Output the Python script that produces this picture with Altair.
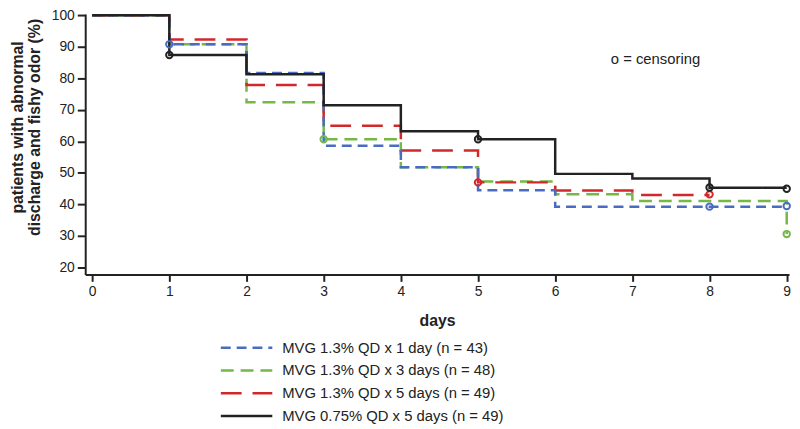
import altair as alt
import pandas as pd

# ---- data ----
series_names = [
    "MVG 1.3% QD x 1 day (n = 43)",
    "MVG 1.3% QD x 3 days (n = 48)",
    "MVG 1.3% QD x 5 days (n = 49)",
    "MVG 0.75% QD x 5 days (n = 49)",
]
series_colors = ["#4a6cc0", "#74b846", "#d2282c", "#222222"]
series_dashes = [[10, 6], [13, 7], [21, 11], [1, 0]]

blue_days = [0, 1, 2, 3, 4, 5, 6, 9]
blue_vals = [100, 90.8, 81.7, 58.6, 51.8, 44.5, 39.3, 39.3]
blue_cens_days = [1, 8, 9]
blue_cens_vals = [90.8, 39.3, 39.5]

green_days = [0, 1, 2, 3, 4, 5, 6, 7, 9]
green_vals = [100, 90.8, 72.4, 60.7, 51.8, 47.3, 43.2, 41.1, 30.6]
green_cens_days = [3, 9]
green_cens_vals = [60.7, 30.6]

red_days = [0, 1, 2, 3, 4, 5, 6, 7, 8]
red_vals = [100, 92.3, 77.9, 65.0, 57.1, 47.0, 44.4, 43.0, 43.0]
red_cens_days = [5, 8]
red_cens_vals = [47.0, 43.2]

black_days = [0, 1, 2, 3, 4, 5, 6, 7, 8, 9]
black_vals = [100, 87.4, 81.3, 71.5, 63.2, 60.7, 49.7, 48.2, 45.3, 45.3]
black_cens_days = [1, 5, 8, 9]
black_cens_vals = [87.4, 60.7, 45.4, 45.0]

x_ticks = list(range(10))
y_ticks = list(range(20, 101, 10))
annotation_text = "o = censoring"

# ---- tables ----
curves = [
    (series_names[1], green_days, green_vals, green_cens_days, green_cens_vals, 0),
    (series_names[2], red_days, red_vals, red_cens_days, red_cens_vals, 1),
    (series_names[0], blue_days, blue_vals, blue_cens_days, blue_cens_vals, 2),
    (series_names[3], black_days, black_vals, black_cens_days, black_cens_vals, 3),
]
line_rows, cens_rows = [], []
for name, d, v, cd, cv, z in curves:
    for a, b in zip(d, v):
        line_rows.append({"series": name, "day": a, "pct": b, "z": z})
    for a, b in zip(cd, cv):
        cens_rows.append({"series": name, "day": a, "pct": b, "z": z})
line_df = pd.DataFrame(line_rows)
cens_df = pd.DataFrame(cens_rows)

FONT = "Liberation Sans"

x_scale = alt.Scale(domain=[-0.09, 9.03], nice=False, zero=False)
y_scale = alt.Scale(domain=[17.8, 100.4], nice=False, zero=False)
color_scale = alt.Scale(domain=series_names, range=series_colors)
dash_scale = alt.Scale(domain=series_names, range=series_dashes)

x_axis = alt.Axis(
    values=x_ticks, format="d", title="days", titleFont=FONT, titleFontSize=16,
    titleFontWeight="bold", titleColor="#222", titlePadding=15,
    labelFont=FONT, labelFontSize=14, labelColor="#222", labelPadding=3,
    tickSize=7, tickWidth=2, tickColor="#222", domainWidth=2, domainColor="#222",
    grid=False, labelFlush=False, labelOverlap=False,
)
y_axis = alt.Axis(
    values=y_ticks, tickCount=9, format="d",
    title=["patients with abnormal", "discharge and fishy odor (%)"],
    titleFont=FONT, titleFontSize=16, titleFontWeight="bold", titleColor="#222",
    titleX=-60, titleY=114, titleLineHeight=17,
    labelFont=FONT, labelFontSize=14, labelColor="#222", labelPadding=3,
    tickSize=8, tickWidth=2, tickColor="#222", domainWidth=2, domainColor="#222",
    grid=False, labelOverlap=False,
)

lines = alt.Chart(line_df).mark_line(interpolate="step-after", strokeWidth=2.5).encode(
    x=alt.X("day:Q", scale=x_scale, axis=x_axis),
    y=alt.Y("pct:Q", scale=y_scale, axis=y_axis),
    color=alt.Color(
        "series:N", scale=color_scale,
        legend=alt.Legend(
            orient="none", legendX=155, legendY=329, title=None,
            symbolType="M-4,0H4", symbolSize=169, symbolStrokeWidth=2.5,
            symbolFillColor="transparent",
            labelFont=FONT, labelFontSize=15, labelColor="#222", labelOffset=28,
            rowPadding=7, padding=0, labelLimit=400,
        ),
    ),
    strokeDash=alt.StrokeDash("series:N", scale=dash_scale, legend=None),
    detail="z:O",
)

points = alt.Chart(cens_df).mark_point(
    shape="circle", filled=False, size=42, strokeWidth=2, opacity=1
).encode(
    x=alt.X("day:Q", scale=x_scale, axis=x_axis),
    y=alt.Y("pct:Q", scale=y_scale, axis=y_axis),
    color=alt.Color("series:N", scale=color_scale, legend=None),
)

note = alt.Chart(pd.DataFrame({"t": [annotation_text]})).mark_text(
    font=FONT, fontSize=15, color="#222", align="center", baseline="middle"
).encode(
    x=alt.datum(7.3, scale=x_scale, axis=x_axis),
    y=alt.datum(86.0, scale=y_scale, axis=y_axis),
    text="t:N",
)

chart = alt.layer(lines, points, note).properties(
    width=711, height=263,
    autosize=alt.AutoSizeParams(type="none"),
    padding={"left": 78, "top": 4, "right": 3, "bottom": 152},
).configure_view(stroke=None)

chart.save("out.html", embed_options={"renderer": "svg", "actions": False})
